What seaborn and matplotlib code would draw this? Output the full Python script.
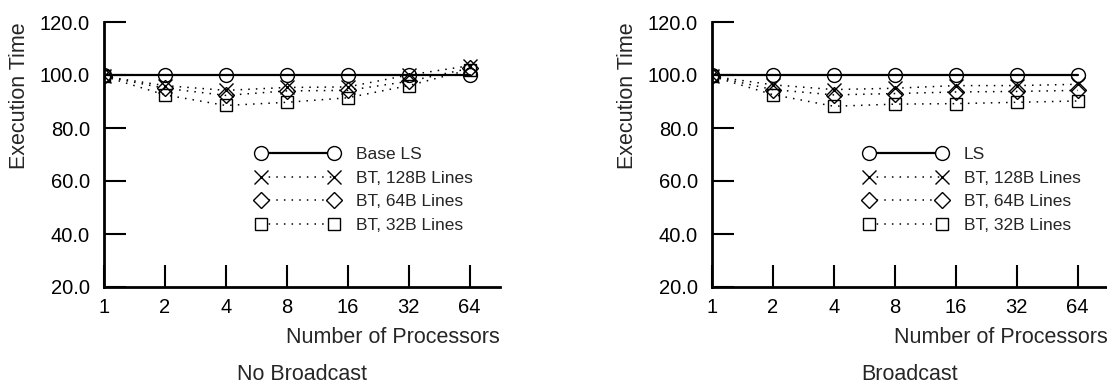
import matplotlib
matplotlib.use("Agg")
import matplotlib.pyplot as plt
import seaborn as sns
from matplotlib.lines import Line2D
from matplotlib.ticker import FixedLocator, FixedFormatter, FuncFormatter

sns.set_theme(style="ticks")
plt.rcParams['font.family'] = ['Liberation Sans', 'DejaVu Sans']

processors = [1, 2, 4, 8, 16, 32, 64]
tick_labels = ["1", "2", "4", "8", "16", "32", "64"]

# No Broadcast panel
nb_base = [100.0, 100.0, 100.0, 100.0, 100.0, 100.0, 100.0]
nb_bt128 = [99.5, 96.0, 94.2, 95.3, 95.5, 100.0, 103.5]
nb_bt64 = [99.5, 95.0, 92.3, 94.0, 94.2, 97.6, 102.5]
nb_bt32 = [99.5, 92.5, 88.5, 89.7, 91.4, 96.0, 102.0]

# Broadcast panel
b_ls = [100.0, 100.0, 100.0, 100.0, 100.0, 100.0, 100.0]
b_bt128 = [99.5, 96.3, 94.5, 95.0, 96.0, 96.0, 96.5]
b_bt64 = [99.5, 94.5, 92.5, 93.0, 93.6, 93.8, 94.2]
b_bt32 = [99.5, 92.6, 88.2, 89.0, 89.2, 89.7, 90.2]

panel_titles = ["No Broadcast", "Broadcast"]
labels_left = ["Base LS", "BT, 128B Lines", "BT, 64B Lines", "BT, 32B Lines"]
labels_right = ["LS", "BT, 128B Lines", "BT, 64B Lines", "BT, 32B Lines"]

W, H = 1107, 385
fig = plt.figure(figsize=(W / 100, H / 100), dpi=100)

def px_axes(left, right, top, bottom):
    return fig.add_axes([left / W, 1 - bottom / H, (right - left) / W, (bottom - top) / H])

ax1 = px_axes(104, 500, 22, 287)
ax2 = px_axes(712, 1108, 22, 287)

styles = [
    dict(marker="o", linestyle="-", linewidth=1.6, markersize=10),
    dict(marker="x", linestyle=(0, (1, 4)), linewidth=1.1, markersize=10),
    dict(marker="D", linestyle=(0, (1, 4)), linewidth=1.1, markersize=8),
    dict(marker="s", linestyle=(0, (1, 4)), linewidth=1.1, markersize=9),
]

def draw(ax, series, labels, title):
    for vals, lab, st in zip(series, labels, styles):
        sns.lineplot(x=processors, y=vals, ax=ax, color="black",
                     markerfacecolor="none", markeredgecolor="black",
                     markeredgewidth=1.0, legend=False, **st)
    ax.set_xscale("log", base=2)
    ax.set_xlim(1, 2 ** 6.5)
    ax.set_ylim(20, 120)
    ax.xaxis.set_major_locator(FixedLocator(processors))
    ax.xaxis.set_major_formatter(FixedFormatter(tick_labels))
    ax.xaxis.set_minor_locator(FixedLocator([]))
    ax.set_yticks([20, 40, 60, 80, 100, 120])
    ax.yaxis.set_major_formatter(FuncFormatter(lambda v, p: f"{v:.1f}"))
    ax.tick_params(axis="both", direction="in", length=16, width=1.5,
                   labelsize=14.5, color="black", labelcolor="black")
    ax.tick_params(axis="y", pad=10)
    ax.tick_params(axis="x", pad=8)
    for s in ["top", "right"]:
        ax.spines[s].set_visible(False)
    for s in ["left", "bottom"]:
        ax.spines[s].set_linewidth(2)
        ax.spines[s].set_color("black")
    ax.set_facecolor("white")
    ax.set_xlabel("Number of Processors", fontsize=15.5, loc="right", labelpad=7)
    ax.set_ylabel("Execution Time", fontsize=15.5, loc="top", labelpad=7)
    handles = [Line2D([], [], color="black", markerfacecolor="white",
                      markeredgecolor="black", markeredgewidth=1.0, **st)
               for st in styles]
    ax.legend(handles, labels, frameon=False, numpoints=2, loc="upper left",
              bbox_to_anchor=(140 / 396, (287 - 135) / 265),
              handlelength=4.8, handletextpad=0.95, labelspacing=0.48,
              fontsize=12.5, borderpad=0.2)
    cx = (ax.get_position().x0 + ax.get_position().x1) / 2
    fig.text(cx, 5 / H, title, ha="center", va="baseline", fontsize=15.5)

draw(ax1, [nb_base, nb_bt128, nb_bt64, nb_bt32], labels_left, panel_titles[0])
draw(ax2, [b_ls, b_bt128, b_bt64, b_bt32], labels_right, panel_titles[1])

fig.savefig("out.png", dpi=100, facecolor="white")
